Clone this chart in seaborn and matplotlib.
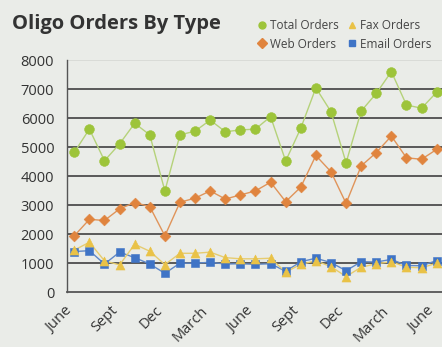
import numpy as np
import pandas as pd
import matplotlib
matplotlib.use("Agg")
import matplotlib.pyplot as plt
import matplotlib.transforms as mtransforms
from matplotlib.lines import Line2D
import seaborn as sns

# Monthly oligo orders, June through June of the following year
months = ["June", "July", "Aug", "Sept", "Oct", "Nov", "Dec", "Jan", "Feb",
          "March", "April", "May",
          "June", "July", "Aug", "Sept", "Oct", "Nov", "Dec", "Jan", "Feb",
          "March", "April", "May", "June"]

total_orders = [4820, 5620, 4530, 5110, 5820, 5420, 3490, 5420, 5550, 5930,
                5530, 5590, 5620, 6050, 4520, 5650, 7040, 6220, 4460, 6240,
                6850, 7600, 6450, 6340, 6890]
web_orders = [1940, 2510, 2470, 2870, 3090, 2950, 1940, 3100, 3240, 3490,
              3210, 3350, 3490, 3790, 3120, 3620, 4710, 4150, 3060, 4350,
              4810, 5380, 4630, 4580, 4920]
fax_orders = [1450, 1720, 1080, 940, 1650, 1410, 950, 1340, 1340, 1380,
              1190, 1150, 1150, 1170, 690, 960, 1080, 880, 540, 860,
              980, 1050, 860, 840, 1000]
email_orders = [1400, 1430, 970, 1380, 1190, 970, 650, 1000, 1000, 1030,
                970, 980, 960, 980, 720, 1050, 1170, 1020, 740, 1050,
                1040, 1130, 920, 910, 1090]

y_ticks = [0, 1000, 2000, 3000, 4000, 5000, 6000, 7000, 8000]
label_every = 3

series = {
    "Total Orders": total_orders,
    "Web Orders": web_orders,
    "Fax Orders": fax_orders,
    "Email Orders": email_orders,
}
df = pd.concat(
    [pd.DataFrame({"month": np.arange(len(months)), "orders": vals, "type": name})
     for name, vals in series.items()],
    ignore_index=True,
)

colors = {
    "Total Orders": "#9dc43a",
    "Web Orders": "#e0843e",
    "Fax Orders": "#e9c247",
    "Email Orders": "#3f74c6",
}
line_colors = {
    "Total Orders": "#b5d27a",
    "Web Orders": "#e0945a",
    "Fax Orders": "#e6cc70",
    "Email Orders": "#5f88c8",
}
markers = {
    "Total Orders": "o",
    "Web Orders": "D",
    "Fax Orders": "^",
    "Email Orders": "s",
}
msize = {"Total Orders": 7, "Web Orders": 5.5, "Fax Orders": 6.5, "Email Orders": 6}
draw_order = ["Email Orders", "Fax Orders", "Web Orders", "Total Orders"]

sns.set_theme(style="white")
plt.rcParams["font.family"] = ["Open Sans", "DejaVu Sans"]

bg = "#eaece8"
fig = plt.figure(figsize=(4.42, 3.47), dpi=100, facecolor=bg)
ax = fig.add_axes([0.151, 0.158, 0.854, 0.669], facecolor=bg)

for name in draw_order:
    sub = df[df["type"] == name]
    sns.lineplot(data=sub, x="month", y="orders", ax=ax, color=line_colors[name],
                 linewidth=1.0, legend=False, zorder=3)
    sns.scatterplot(data=sub, x="month", y="orders", ax=ax, color=colors[name],
                    marker=markers[name], s=msize[name] ** 2,
                    edgecolor=colors[name], linewidth=0.4, legend=False,
                    zorder=4)

ax.set_xlim(-0.5, len(months) - 0.5)
ax.set_ylim(0, 8000)

# horizontal gridlines
for v in y_ticks[1:-1]:
    ax.axhline(v, color="#4d4d4d", linewidth=1.3, zorder=1)
ax.axhline(y_ticks[-1], color="#d8dad6", linewidth=1.3, zorder=1)

ax.set_yticks(y_ticks)
ax.set_yticklabels([f"{v}" for v in y_ticks], fontsize=10.5, color="#333333")

# month labels every quarter, rotated and nudged left of the month centre
tick_pos = list(range(0, len(months), label_every))
ax.set_xticks(tick_pos)
ax.set_xticklabels([""] * len(tick_pos))
label_tf = mtransforms.offset_copy(ax.get_xaxis_transform(), fig=fig,
                                   x=-7, y=-8, units="points")
for i in tick_pos:
    ax.text(i, 0, months[i], transform=label_tf, rotation=45, ha="right",
            va="top", rotation_mode="anchor", fontsize=10.5, color="#333333",
            clip_on=False)

ax.set_xticks(np.arange(-0.5, len(months), 1.0), minor=True)
ax.tick_params(axis="x", which="major", length=0)
ax.tick_params(axis="x", which="minor", length=4, width=1, color="#555555",
               direction="out")
ax.tick_params(axis="y", which="major", length=6, width=1, color="#555555",
               direction="out", pad=3)

for side in ["top", "right"]:
    ax.spines[side].set_visible(False)
ax.spines["left"].set_color("#555555")
ax.spines["left"].set_linewidth(1.0)
ax.spines["bottom"].set_color("#555555")
ax.spines["bottom"].set_linewidth(1.3)
ax.set_xlabel("")
ax.set_ylabel("")

fig.text(0.028, 0.93, "Oligo Orders By Type", fontsize=14.5, fontweight="bold",
         color="#333333", ha="left", va="center")

legend_order = ["Total Orders", "Web Orders", "Fax Orders", "Email Orders"]
handles = [Line2D([], [], linestyle="none", marker=markers[n], color=colors[n],
                  markersize=5) for n in legend_order]
fig.legend(handles, legend_order, loc="upper right", bbox_to_anchor=(1.0, 0.975),
           ncol=2, frameon=False, fontsize=8.5, handletextpad=0.2,
           columnspacing=0.6, labelspacing=0.45, handlelength=1.0,
           labelcolor="#444444")

fig.savefig("out.png", dpi=100, facecolor=bg)
